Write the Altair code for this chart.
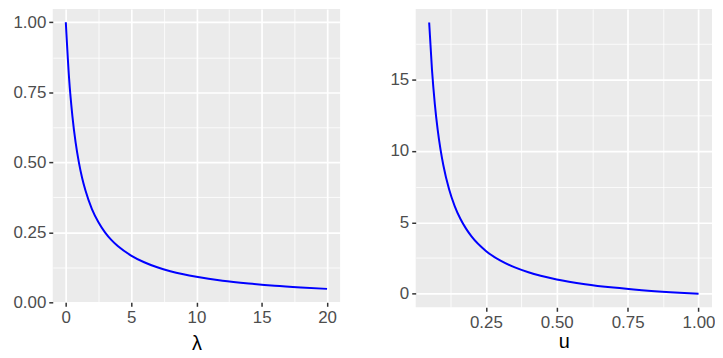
import altair as alt
import pandas as pd

# Left panel: curve
lam = [0, 0.25, 0.5, 0.75, 1, 1.25, 1.5, 2, 2.5, 3, 3.5, 4, 5, 6, 7, 8, 9, 10, 12, 14, 16, 18, 20]
lam_y = [1.0, 0.80, 0.667, 0.571, 0.50, 0.444, 0.40, 0.333, 0.286, 0.25, 0.222, 0.20, 0.167,
         0.143, 0.125, 0.111, 0.10, 0.091, 0.077, 0.067, 0.059, 0.053, 0.048]

# Right panel: curve
u = [0.05, 0.06, 0.07, 0.08, 0.09, 0.10, 0.12, 0.14, 0.16, 0.18, 0.20, 0.25, 0.30, 0.35,
     0.40, 0.50, 0.60, 0.70, 0.80, 0.90, 1.00]
u_y = [19.0, 15.67, 13.29, 11.5, 10.11, 9.0, 7.33, 6.14, 5.25, 4.56, 4.0, 3.0, 2.33, 1.86,
       1.5, 1.0, 0.667, 0.429, 0.25, 0.111, 0.0]

# Axis breaks
lam_major = [0, 5, 10, 15, 20]
lam_minor = [2.5, 7.5, 12.5, 17.5]
p_major = [0, 0.25, 0.5, 0.75, 1.0]
p_minor = [0.125, 0.375, 0.625, 0.875]
ry_major = [0, 5, 10, 15]
ry_minor = [2.5, 7.5, 12.5, 17.5]
ux_major = [0.25, 0.5, 0.75, 1.0]
ux_minor = [0.125, 0.375, 0.625, 0.875]

FONT = "Liberation Sans"
LABEL_SIZE = 17
LABEL_COLOR = "#4D4D4D"


def make_axis(major, minor, fmt, title=None, title_pad=5):
    arr = "[" + ",".join(repr(float(v)) for v in major) + "]"
    test = f"indexof({arr}, datum.value) >= 0"
    kw = dict(
        values=sorted(major + minor),
        labelExpr=f"{test} ? format(datum.value, '{fmt}') : ''",
        gridWidth={"condition": {"test": test, "value": 1.7}, "value": 0.8},
        tickOpacity={"condition": {"test": test, "value": 1}, "value": 0},
        grid=True,
        gridColor="white",
        domain=False,
        tickColor="#333333",
        tickWidth=1.5,
        tickSize=4,
        labelPadding=3,
        labelFont=FONT,
        labelFontSize=LABEL_SIZE,
        labelColor=LABEL_COLOR,
    )
    if title is not None:
        kw.update(title=title, titleFont=FONT, titleFontSize=20, titleFontWeight="normal",
                  titleColor="black", titlePadding=title_pad)
    else:
        kw.update(title=None)
    return alt.Axis(**kw)


left_df = pd.DataFrame({"lam": lam, "y": lam_y})
right_df = pd.DataFrame({"u": u, "y": u_y})

left = alt.Chart(left_df).mark_line(color="#0000FF", strokeWidth=2, interpolate="monotone").encode(
    x=alt.X("lam:Q", scale=alt.Scale(domain=[-1, 21], nice=False, zero=False),
            axis=make_axis(lam_major, lam_minor, "d", "λ", 8)),
    y=alt.Y("y:Q", scale=alt.Scale(domain=[0, 1.0476], nice=False, zero=False),
            axis=make_axis(p_major, p_minor, ".2f")),
).properties(width=289, height=295)

right = alt.Chart(right_df).mark_line(color="#0000FF", strokeWidth=2, interpolate="monotone").encode(
    x=alt.X("u:Q", scale=alt.Scale(domain=[0.0025, 1.0475], nice=False, zero=False),
            axis=make_axis(ux_major, ux_minor, ".2f", "u", 1)),
    y=alt.Y("y:Q", scale=alt.Scale(domain=[-0.95, 19.95], nice=False, zero=False),
            axis=make_axis(ry_major, ry_minor, "d")),
).properties(width=298, height=300)

chart = alt.hconcat(left, right, spacing=50).properties(
    padding={"left": 4, "top": 0, "right": 0, "bottom": 0},
    background="white",
).configure_view(fill="#EBEBEB", stroke=None)

chart.save("out.html", embed_options={"renderer": "svg", "actions": False})
